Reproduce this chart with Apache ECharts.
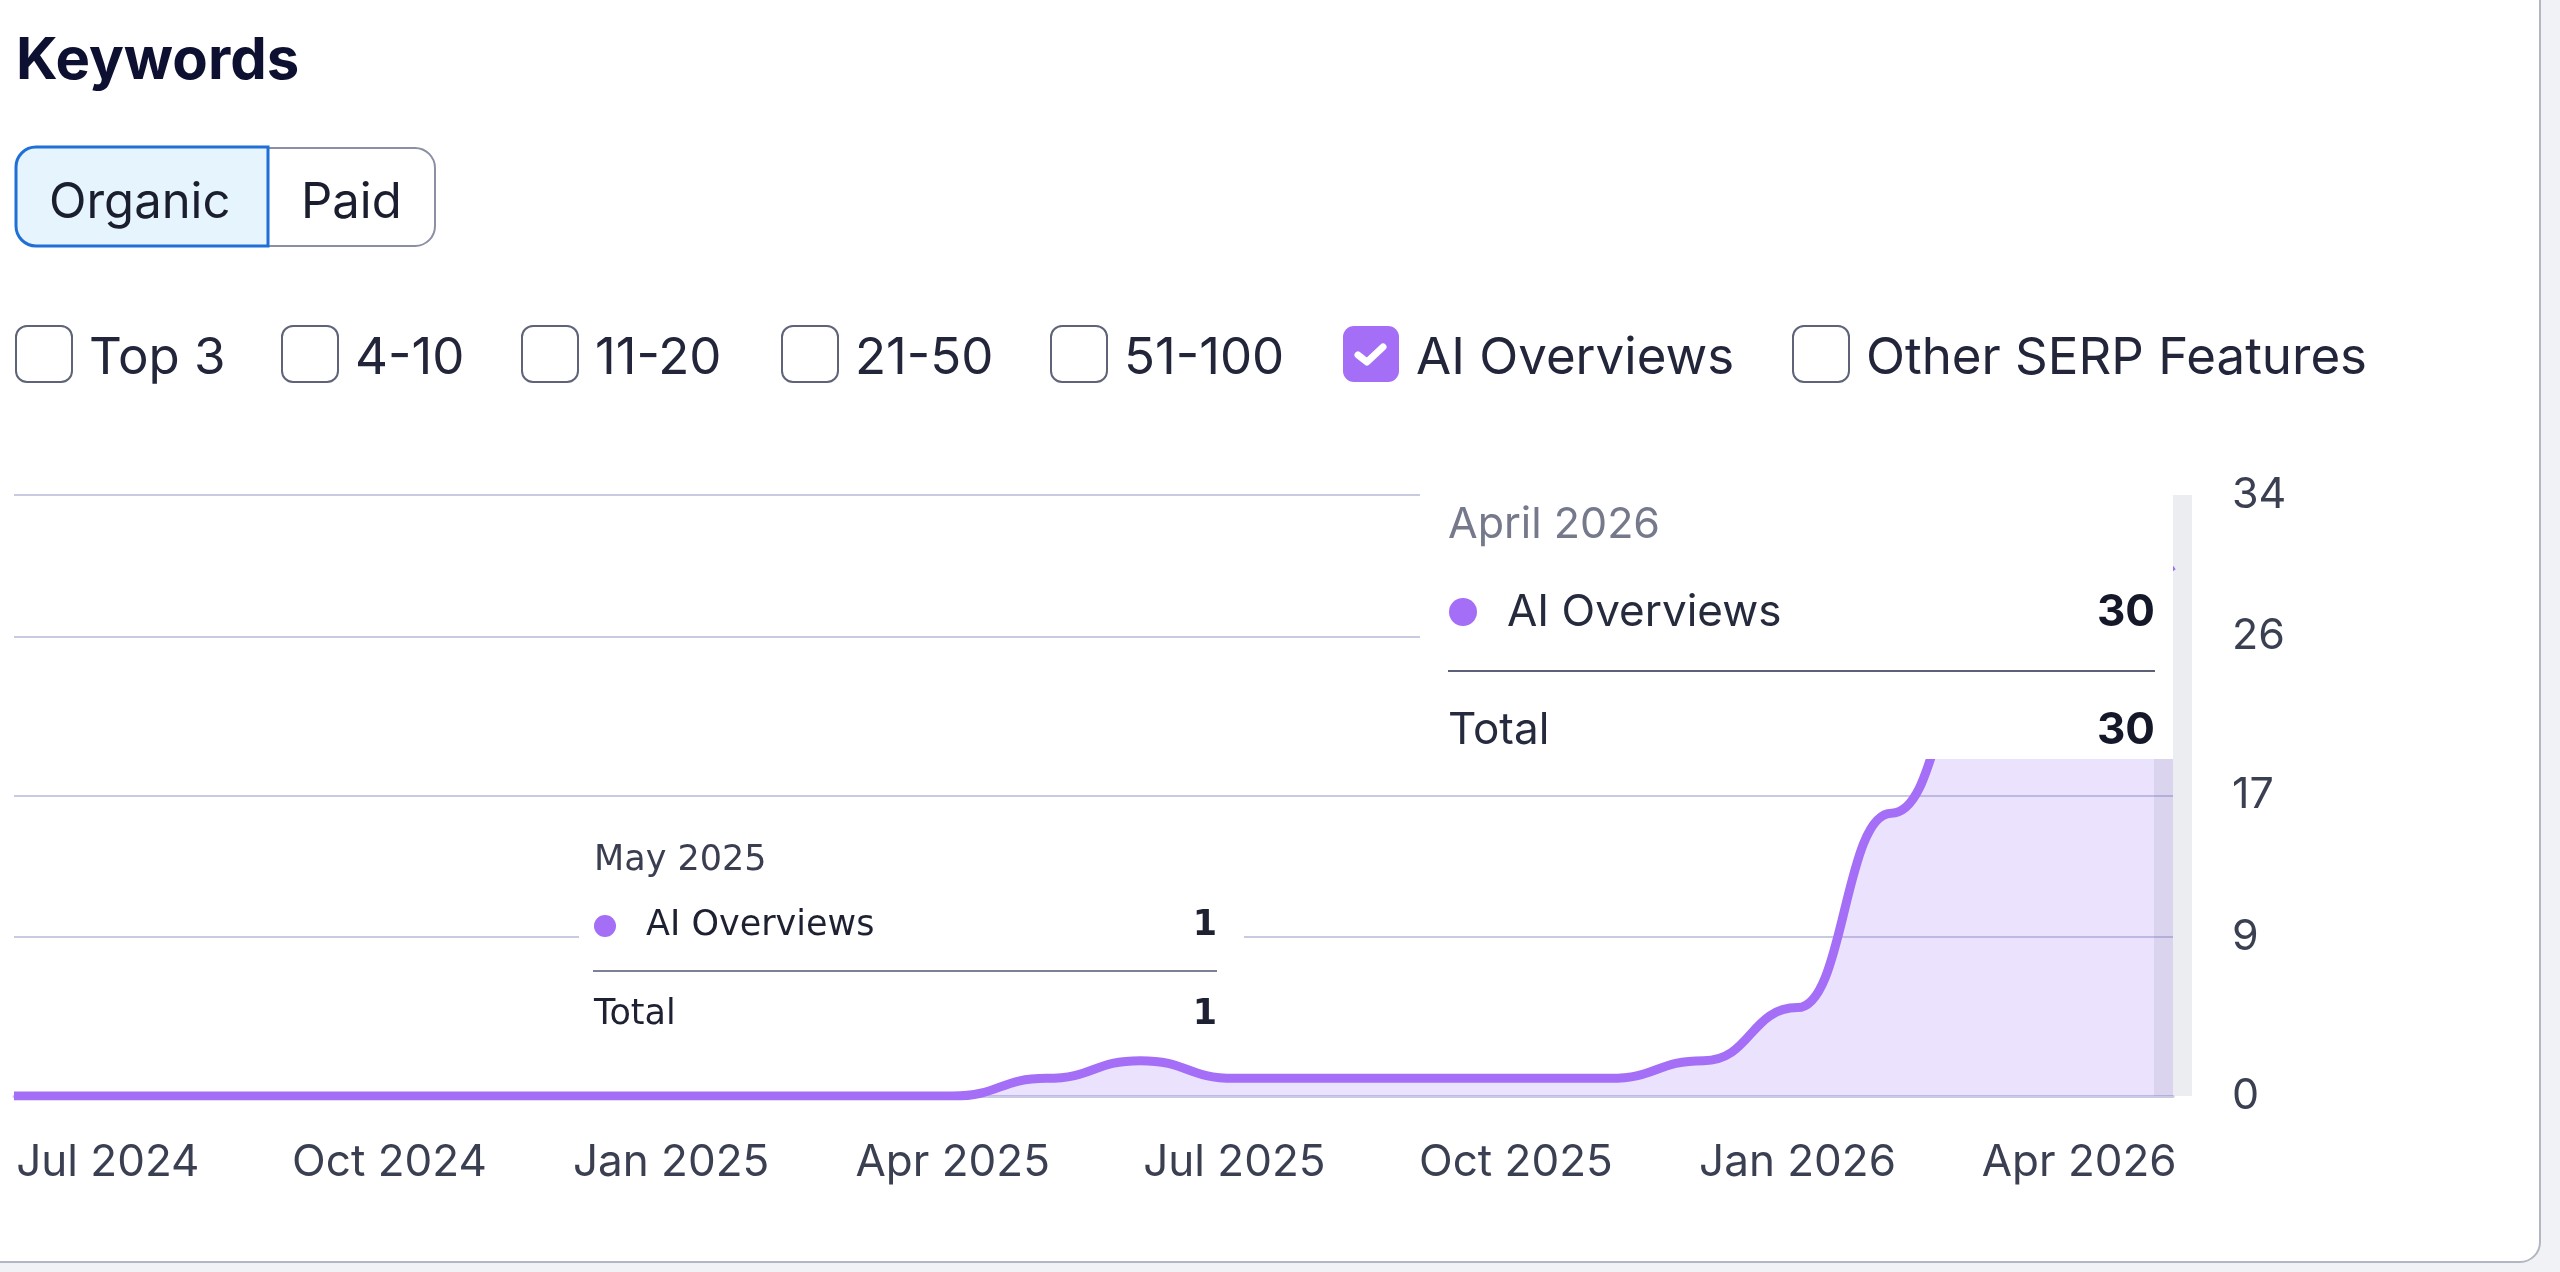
<!DOCTYPE html>
<html lang="en">
<head>
    <meta charset="UTF-8">
    <title>Keywords - AI Overviews</title>
    <style>
        *{
            margin: 0;
        }
        html,body{
            height: 100%;
            background: #f1f2f6;
        }
        #chart{
            width: 2560px;
            height: 1272px;
        }
    </style>
    <script src="https://cdn.jsdelivr.net/npm/echarts@6.0.0/dist/echarts.min.js"></script>
</head>
<body>
<div id="chart"></div>
<script>
    // monthly points, Jun 2024 .. May 2026
    const months = ['Jun 2024','Jul 2024','Aug 2024','Sep 2024','Oct 2024','Nov 2024','Dec 2024',
        'Jan 2025','Feb 2025','Mar 2025','Apr 2025','May 2025','Jun 2025','Jul 2025','Aug 2025',
        'Sep 2025','Oct 2025','Nov 2025','Dec 2025','Jan 2026','Feb 2026','Mar 2026','Apr 2026','May 2026'];
    const aiOverviews = [0,0,0,0,0,0,0, 0,0,0,0,1,2,1,1, 1,1,1,2,5,16,25,28,30];
    const yTicks = [0, 9, 17, 26, 34];

    const switchLabels = ['Organic', 'Paid'];
    const rangeLabels = ['Top 3','4-10','11-20','21-50','51-100','AI Overviews','Other SERP Features'];
    const checkedRange = 'AI Overviews';

    // the two hover cards shown in the picture: [title, index into aiOverviews]
    const cards = [['May 2025', 11], ['April 2026', 23]];

    const purple = '#a56ef6';
    const ink = '#23263a';
    const font = 'Inter';

    function txt(s, x, y, size, color, opt) {
        opt = opt || {};
        return {
            type: 'text', x: x, y: y, z: opt.z || 10,
            style: {
                text: s, fill: color, fontSize: size, fontFamily: opt.family || font,
                fontWeight: opt.weight || 'normal',
                align: opt.align || 'left', textAlign: opt.align || 'left',
                verticalAlign: 'middle', textVerticalAlign: 'middle'
            }
        };
    }

    let g = [];
    // card background
    g.push({type:'rect', z:-10, shape:{x:-40, y:-40, width:2580, height:1302, r:20},
        style:{fill:'#fff', stroke:'#b3b6c2', lineWidth:2}});
    g.push(txt('Keywords', 16, 62, 58, '#0d1030', {weight:'bold'}));

    // Organic / Paid switch
    g.push({type:'rect', z:5, shape:{x:268, y:148, width:167, height:98, r:[0,20,20,0]},
        style:{fill:'#fff', stroke:'#8b8fa3', lineWidth:2}});
    g.push({type:'rect', z:6, shape:{x:16, y:147, width:252, height:99, r:[20,0,0,20]},
        style:{fill:'#e5f4fd', stroke:'#1f6fd6', lineWidth:3}});
    g.push(txt(switchLabels[0], 49, 203, 49, '#1b1e2e'));
    g.push(txt(switchLabels[1], 301, 203, 49, '#1b1e2e'));

    // position filter checkboxes
    const boxX = [16, 282, 522, 782, 1051, 1343, 1793];
    rangeLabels.forEach(function (name, i) {
        const on = name === checkedRange;
        g.push({type:'rect', z:5, shape:{x:boxX[i], y:326, width:56, height:56, r:11},
            style: on ? {fill:purple} : {fill:'#fff', stroke:'#5f6378', lineWidth:2}});
        if (on) {
            g.push({type:'polyline', z:6, shape:{points:[[boxX[i]+15,355],[boxX[i]+24,362],[boxX[i]+40,347]]},
                style:{fill:null, stroke:'#fff', lineWidth:7, lineCap:'round', lineJoin:'round'}});
        }
        g.push(txt(name, boxX[i] + 73, 359, 51, ink));
    });

    // hover card on the left (May 2025)
    const lv = aiOverviews[cards[0][1]];
    const lf = 'DejaVu Sans';
    g.push({type:'rect', z:50, shape:{x:579, y:815, width:665, height:230}, style:{fill:'#fff'}});
    g.push(txt(cards[0][0], 594, 861, 35, '#3a3e50', {family:lf, z:51}));
    g.push({type:'circle', z:51, shape:{cx:605, cy:926, r:11}, style:{fill:purple}});
    g.push(txt('AI Overviews', 646, 926, 35, '#1e2132', {family:lf, z:51}));
    g.push(txt(String(lv), 1217, 926, 35, '#1e2132', {family:lf, weight:'bold', align:'right', z:51}));
    g.push({type:'line', z:51, shape:{x1:593, y1:971, x2:1217, y2:971}, style:{stroke:'#7d8196', lineWidth:2}});
    g.push(txt('Total', 594, 1015, 35, '#1e2132', {family:lf, z:51}));
    g.push(txt(String(lv), 1217, 1015, 35, '#1e2132', {family:lf, weight:'bold', align:'right', z:51}));

    // hover card on the right (April 2026)
    const rv = aiOverviews[cards[1][1]];
    g.push({type:'rect', z:50, shape:{x:1420, y:470, width:753, height:289}, style:{fill:'#fff'}});
    g.push(txt(cards[1][0], 1448, 525, 43, '#75798b', {z:51}));
    g.push({type:'circle', z:51, shape:{cx:1463, cy:612, r:14}, style:{fill:purple}});
    g.push(txt('AI Overviews', 1507, 613, 44, '#262a3d', {z:51}));
    g.push(txt(String(rv), 2155, 613, 44, '#151828', {weight:'bold', align:'right', z:51}));
    g.push({type:'line', z:51, shape:{x1:1448, y1:671, x2:2155, y2:671}, style:{stroke:'#5c6078', lineWidth:2}});
    g.push(txt('Total', 1448, 731, 44, '#262a3d', {z:51}));
    g.push(txt(String(rv), 2155, 731, 44, '#151828', {weight:'bold', align:'right', z:51}));

    const myChart = echarts.init(document.getElementById('chart'));
    myChart.setOption({
        animation: false,
        backgroundColor: '#f1f2f6',
        textStyle: {fontFamily: font},
        graphic: {elements: g},
        grid: {left: 14, right: 387, top: 495, bottom: 176},
        xAxis: {
            type: 'category',
            data: months,
            boundaryGap: false,
            axisTick: {show: false},
            axisLine: {lineStyle: {color: '#c9cbe6', width: 3}},
            axisLabel: {
                interval: function (idx) { return idx % 3 === 1; },
                margin: 45,
                fontSize: 44,
                color: '#3b3f52'
            }
        },
        yAxis: {
            type: 'value',
            position: 'right',
            min: yTicks[0],
            max: yTicks[yTicks.length - 1],
            axisLine: {show: false},
            axisTick: {show: false, customValues: yTicks},
            splitLine: {lineStyle: {color: '#c8cadf', width: 2}},
            axisLabel: {
                customValues: yTicks,
                align: 'left',
                margin: 59,
                fontSize: 43,
                color: '#3b3f52'
            }
        },
        series: [{
            name: 'AI Overviews',
            type: 'line',
            data: aiOverviews,
            smooth: 0.5,
            smoothMonotone: 'x',
            showSymbol: false,
            silent: true,
            lineStyle: {color: purple, width: 9},
            areaStyle: {color: 'rgba(150,105,245,0.27)'},
            markLine: {
                silent: true,
                symbol: 'none',
                label: {show: false},
                lineStyle: {type: 'solid', color: 'rgba(110,118,145,0.13)', width: 38},
                data: [{xAxis: months[months.length - 1]}]
            }
        }]
    });
</script>
</body>
</html>
